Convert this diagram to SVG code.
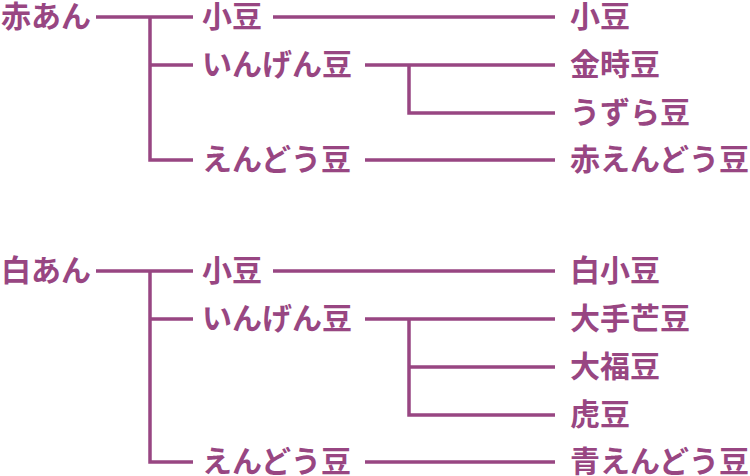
<svg xmlns="http://www.w3.org/2000/svg" width="750" height="476" viewBox="0 0 750 476">
<style>
text{font-family:"Noto Sans CJK JP","Noto Sans CJK SC",sans-serif;font-size:30px;font-weight:bold;fill:#984682}
.c{fill:none;stroke:#984682;stroke-width:3.5}
</style>
<rect width="750" height="476" fill="#fff"/>
<g id="connectors">
<path class="c" d="M96 17H193M150 17V160H193M150 65H193M273 17H555M365 65H555M409 65V113H555M365 160H555"/>
<path class="c" d="M96 271H193M150 271V462H193M150 319H193M273 271H555M365 319H555M409 319V415H555M409 367H555M365 462H555"/>
</g>
<g id="n-akaan"><text x="1" y="27">赤あん</text></g>
<g id="n-azuki1"><text x="202" y="27">小豆</text></g>
<g id="n-ingen1"><text x="202" y="75">いんげん豆</text></g>
<g id="n-endou1"><text x="202" y="170">えんどう豆</text></g>
<g id="n-azuki1r"><text x="570" y="27">小豆</text></g>
<g id="n-kintoki"><text x="570" y="75">金時豆</text></g>
<g id="n-uzura"><text x="570" y="123">うずら豆</text></g>
<g id="n-akaendou"><text x="570" y="170">赤えんどう豆</text></g>
<g id="n-shiroan"><text x="1" y="281">白あん</text></g>
<g id="n-azuki2"><text x="202" y="281">小豆</text></g>
<g id="n-ingen2"><text x="202" y="329">いんげん豆</text></g>
<g id="n-endou2"><text x="202" y="472">えんどう豆</text></g>
<g id="n-shiroazuki"><text x="570" y="281">白小豆</text></g>
<g id="n-otebou"><text x="570" y="329">大手芒豆</text></g>
<g id="n-ofuku"><text x="570" y="377">大福豆</text></g>
<g id="n-tora"><text x="570" y="425">虎豆</text></g>
<g id="n-aoendou"><text x="570" y="472">青えんどう豆</text></g>
</svg>
